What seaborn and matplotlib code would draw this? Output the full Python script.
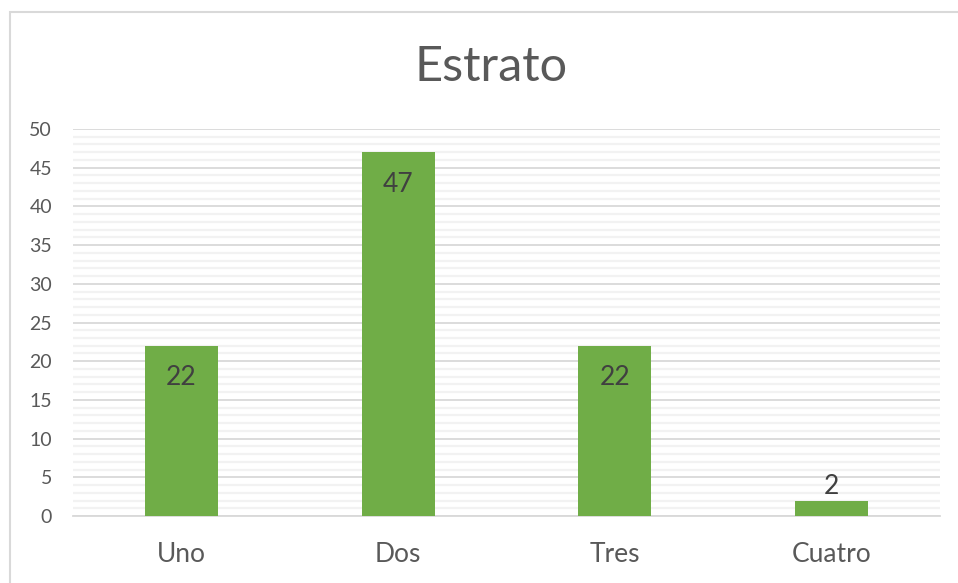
import matplotlib
matplotlib.use("Agg")
import matplotlib.pyplot as plt
import seaborn as sns
import pandas as pd
from matplotlib.patches import Rectangle
from matplotlib.ticker import MultipleLocator

categories = ["Uno", "Dos", "Tres", "Cuatro"]
values = [22, 47, 22, 2]
title = "Estrato"
yticks = [0, 5, 10, 15, 20, 25, 30, 35, 40, 45, 50]

sns.set_style("white")
plt.rcParams['font.family'] = ['Lato', 'DejaVu Sans']

df = pd.DataFrame({"cat": categories, "val": values})

fig = plt.figure(figsize=(9.58, 5.83), dpi=100)
ax = fig.add_axes([73/958, 67/583, (940-73)/958, (516-129)/583])

sns.barplot(data=df, x="cat", y="val", color="#70ad47", width=0.336,
            saturation=1, ax=ax, zorder=3, linewidth=0, edgecolor="none")

ax.set_ylim(0, 50)
ax.set_xlim(-0.5, 3.5)
ax.set_yticks(yticks)
ax.yaxis.set_minor_locator(MultipleLocator(1))
ax.grid(axis="y", which="major", color="#d9d9d9", linewidth=1.3, zorder=0)
ax.grid(axis="y", which="minor", color="#f2f2f2", linewidth=1.6, zorder=0)
ax.grid(axis="x", visible=False)
ax.set_axisbelow(True)
for s in ["top", "right", "left"]:
    ax.spines[s].set_visible(False)
ax.spines["bottom"].set_color("#d9d9d9")
ax.spines["bottom"].set_linewidth(1.3)
ax.set_xlabel("")
ax.set_ylabel("")
ax.tick_params(axis="y", which="both", length=0, pad=15, labelsize=14, labelcolor="#595959")
ax.tick_params(axis="x", length=0, pad=19, labelsize=19, labelcolor="#595959")

for p, v in zip(ax.patches, values):
    xc = p.get_x() + p.get_width() / 2
    top = p.get_height()
    if v >= 5:
        ax.annotate(str(v), (xc, top), xytext=(0, -23), textcoords="offset points",
                    ha="center", va="center", fontsize=19, color="#404040")
    else:
        ax.annotate(str(v), (xc, top), xytext=(0, 10), textcoords="offset points",
                    ha="center", va="center", fontsize=19, color="#404040")

fig.text(491/958, 1 - 67/583, title, ha="center", va="center", fontsize=35, color="#595959")

fig.patches.append(Rectangle((9.5/958, -0.05), 1.2, (583-11.5)/583 + 0.05,
                             transform=fig.transFigure, fill=False,
                             edgecolor="#d9d9d9", linewidth=1.5))

fig.savefig("out.png", dpi=100, facecolor="white")
